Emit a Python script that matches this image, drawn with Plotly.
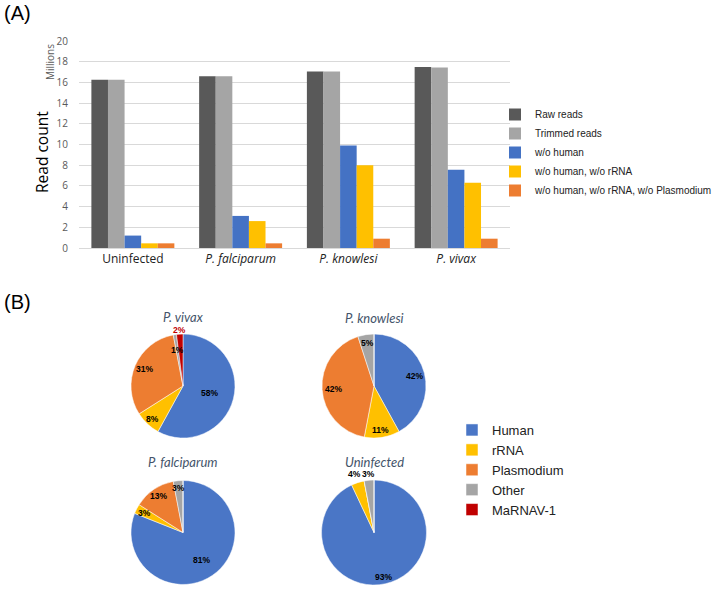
import math
import plotly.graph_objects as go

W, H = 716, 589

# ---------------- data ----------------
categories = ["Uninfected", "<i>P. falciparum</i>", "<i>P. knowlesi</i>", "<i>P. vivax</i>"]
series_names = ["Raw reads", "Trimmed reads", "w/o human", "w/o human, w/o rRNA",
                "w/o human, w/o rRNA, w/o Plasmodium"]
raw_reads = [16.25, 16.6, 17.05, 17.5]
trimmed_reads = [16.25, 16.6, 17.05, 17.45]
wo_human = [1.2, 3.1, 9.9, 7.55]
wo_human_rrna = [0.45, 2.6, 8.0, 6.3]
wo_human_rrna_plasmodium = [0.45, 0.45, 0.9, 0.9]
bar_colors = ["#595959", "#a5a5a5", "#4472c4", "#ffc000", "#ed7d31"]

pie_labels = ["Human", "rRNA", "Plasmodium", "Other", "MaRNAV-1"]
pie_colors = ["#4a76c6", "#ffc000", "#ed7d31", "#a5a5a5", "#c00000"]
pie_titles = ["P. vivax", "P. knowlesi", "P. falciparum", "Uninfected"]
vivax_pct = [58, 8, 31, 1, 2]
knowlesi_pct = [42, 11, 42, 5, 0]
falciparum_pct = [81, 3, 13, 3, 0]
uninfected_pct = [93, 4, 0, 3, 0]

fig = go.Figure()

# ---------------- panel A: bars ----------------
for name, vals, col in zip(series_names,
                           [raw_reads, trimmed_reads, wo_human, wo_human_rrna, wo_human_rrna_plasmodium],
                           bar_colors):
    fig.add_trace(go.Bar(x=categories, y=vals, name=name, marker_color=col,
                         marker_line_width=0, legend="legend"))

def px_x(p):
    return p / W

def px_y(p):
    return 1 - p / H

fig.update_layout(
    xaxis=dict(domain=[px_x(79), px_x(510)], anchor="y", showgrid=False,
               showline=True, linecolor="#d9d9d9", linewidth=1, ticks="",
               automargin=False,
               tickfont=dict(family="Open Sans", size=12, color="#222222")),
    yaxis=dict(domain=[px_y(248), px_y(41)], anchor="x", range=[0, 20], dtick=2,
               showgrid=True, gridcolor="#d9d9d9", gridwidth=1, zeroline=False,
               showline=False, ticks="", ticklabelstandoff=10, automargin=False,
               tickfont=dict(family="Open Sans", size=10, color="#595959")),
    barmode="group", bargap=0.23, bargroupgap=0,
)

# ---------------- panel B: pies ----------------
# pixel boxes (x0, x1, ytop, ybottom) and label radius factors per slice
pies = [
    (vivax_pct, (131, 235, 334, 438), [0.52, 0.86, 0.81, 0.70, 1.07], 317),
    (knowlesi_pct, (321, 427, 334, 438), [0.80, 0.85, 0.78, 0.83, 1.0], 318),
    (falciparum_pct, (131, 235, 480, 585), [0.65, 0.83, 0.85, 0.85, 1.0], 462),
    (uninfected_pct, (321, 427, 480, 585), [0.86, 1.18, 1.0, 1.12, 1.0], 462),
]
ann = []
for i, (vals, (x0, x1, y0, y1), rfs, ty) in enumerate(pies):
    fig.add_trace(go.Pie(
        labels=pie_labels, values=vals, sort=False, direction="clockwise", rotation=0,
        marker=dict(colors=pie_colors, line=dict(color="white", width=0.5)),
        textinfo="none",
        domain=dict(x=[px_x(x0), px_x(x1)], y=[px_y(y1), px_y(y0)]),
        legend="legend2", showlegend=(i == 0), name=pie_titles[i],
    ))
    cx, cy = (x0 + x1) / 2, (y0 + y1) / 2
    r = min(x1 - x0, y1 - y0) / 2
    total = sum(vals)
    cum = 0
    for j, v in enumerate(vals):
        if v > 0:
            ang = math.radians((cum + v / 2) / total * 360)
            lx = cx + rfs[j] * r * math.sin(ang)
            ly = cy - rfs[j] * r * math.cos(ang)
            ann.append(dict(text=f"<b>{v}%</b>", x=px_x(lx), y=px_y(ly),
                            xanchor="center", yanchor="middle",
                            font=dict(family="Liberation Sans", size=8.5,
                                      color="#c00000" if pie_labels[j] == "MaRNAV-1" else "black")))
        cum += v
    ann.append(dict(text=f"<i>{pie_titles[i]}</i>", x=px_x(cx), y=px_y(ty),
                    xanchor="center", yanchor="middle",
                    font=dict(family="Lato", size=13, color="#44546a")))

fig.update_layout(
    width=W, height=H, margin=dict(l=0, r=0, t=0, b=0, autoexpand=False),
    paper_bgcolor="white", plot_bgcolor="white",
    legend=dict(x=px_x(495), y=px_y(100), xanchor="left", yanchor="top",
                font=dict(family="Liberation Sans", size=10, color="#222222"),
                bgcolor="rgba(0,0,0,0)", tracegroupgap=0),
    legend2=dict(x=px_x(452), y=px_y(415), xanchor="left", yanchor="top",
                 font=dict(family="Liberation Sans", size=13, color="#222222"),
                 bgcolor="rgba(0,0,0,0)"),
    showlegend=True,
)

ann += [
    dict(text="(A)", x=px_x(2), y=px_y(13), xanchor="left", yanchor="middle",
         font=dict(family="Liberation Sans", size=20, color="black")),
    dict(text="(B)", x=px_x(2), y=px_y(302), xanchor="left", yanchor="middle",
         font=dict(family="Liberation Sans", size=20, color="black")),
    dict(text="Millions", x=px_x(50), y=px_y(62), textangle=-90, xanchor="center",
         yanchor="middle", font=dict(family="Open Sans", size=10, color="#595959")),
    dict(text="Read count", x=px_x(42), y=px_y(152), textangle=-90, xanchor="center",
         yanchor="middle", font=dict(family="Open Sans", size=15.5, color="black")),
]
for a in ann:
    a.update(xref="paper", yref="paper", showarrow=False)
fig.update_layout(annotations=ann)

fig.write_html("out.html", config={"displayModeBar": False},
               post_script="document.body.style.margin='0';")
